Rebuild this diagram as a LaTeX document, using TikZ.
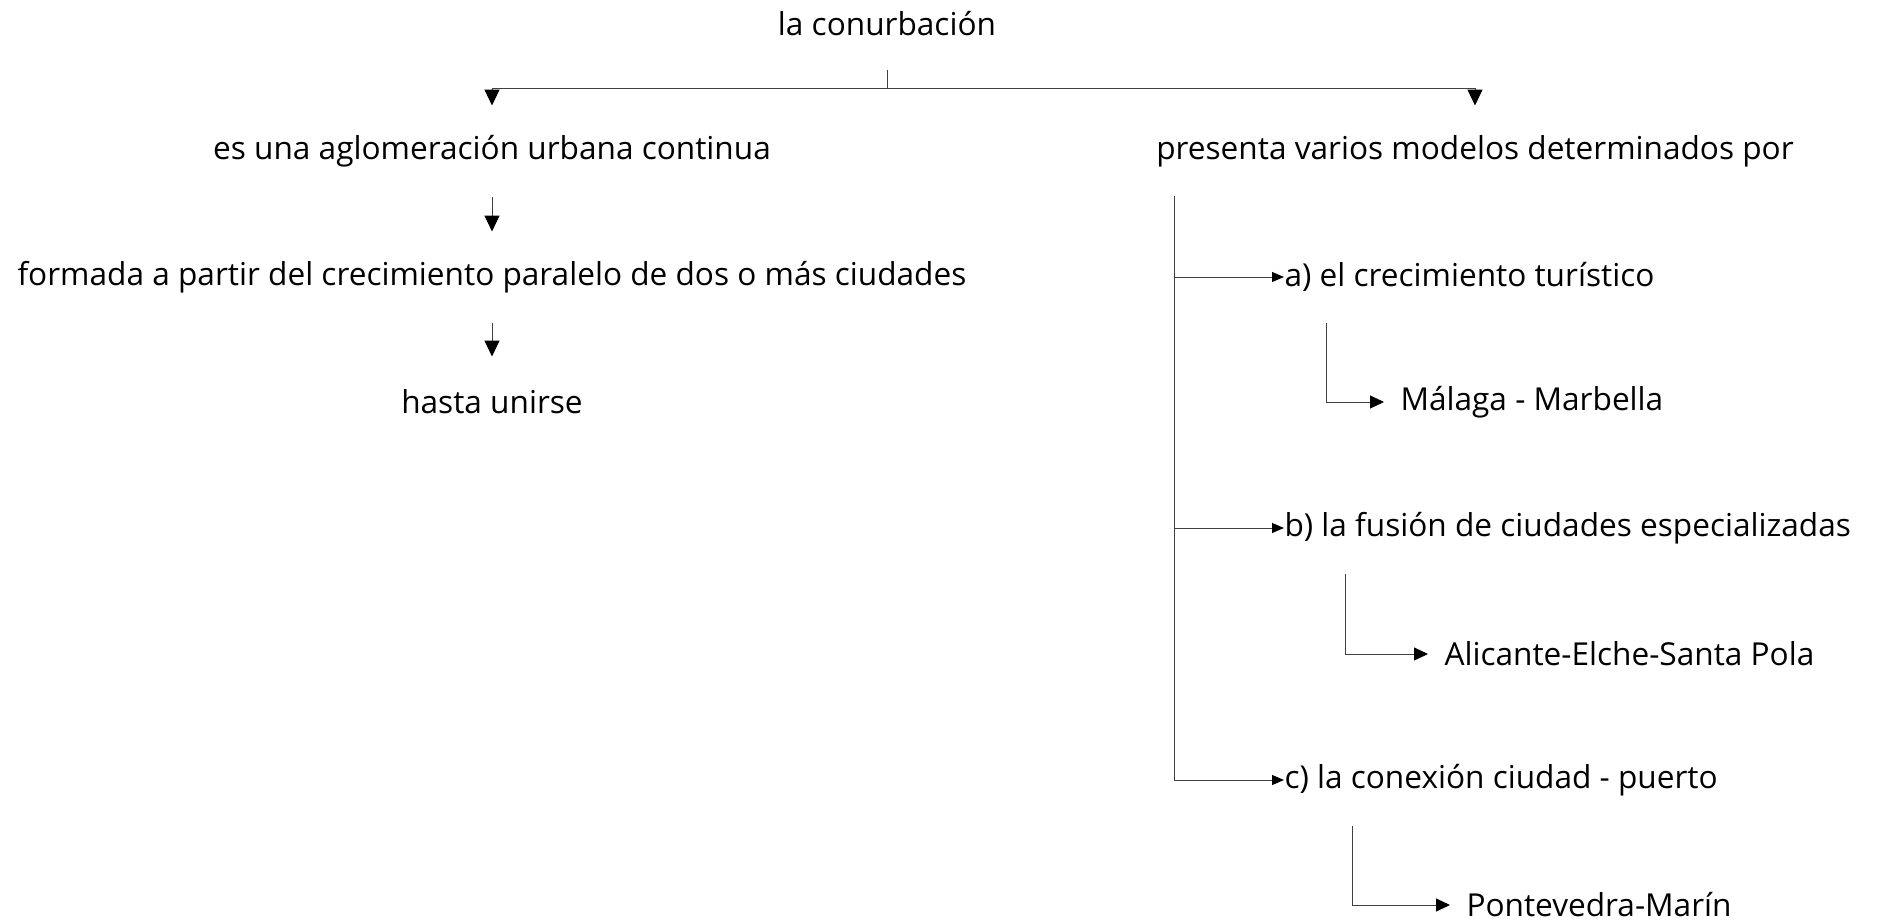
\documentclass[tikz,border=0pt]{standalone}
\usepackage{fontspec}
\setmainfont{Open Sans}
\usetikzlibrary{arrows.meta}
\begin{document}
\begin{tikzpicture}
  [-{Triangle[length=8pt,width=7.5pt,color=black]}, x=0.5pt, y=-0.5pt,
   line width=0.5pt, draw=black!75,
   font=\fontsize{15.8}{18}\selectfont,
   concepto/.style={inner xsep=0pt, inner ysep=0pt, minimum height=45pt},
   ejemplo/.style={concepto, anchor=west, inner xsep=8pt},
   rama/.style={-{Triangle[length=6pt,width=5pt,color=black]}},
   subrama/.style={-{Triangle[length=7pt,width=6.5pt,color=black]}}]
  \useasboundingbox (0,0) rectangle (1881,921);

  % Raíz del esquema
  \node[concepto] (root) at (887,24) {la conurbación};

  % Rama izquierda
  \node[concepto] (aglom) at (492,151) {es una aglomeración urbana continua};
  \node[concepto] (formada) at (492,277) {formada a partir del crecimiento paralelo de dos o más ciudades};
  \node[concepto] (unirse) at (492,402) {hasta unirse};

  % Rama derecha
  \node[concepto] (modelos) at (1475,151) {presenta varios modelos determinados por};
  \node[concepto, anchor=west] (turistico) at (1284,277) {a) el crecimiento turístico};
  \node[concepto, anchor=west] (fusion) at (1284,528) {b) la fusión de ciudades especializadas};
  \node[concepto, anchor=west] (conexion) at (1284,780) {c) la conexión ciudad - puerto};

  % Ejemplos
  \node[ejemplo] (malaga) at (1384,402) {Málaga - Marbella};
  \node[ejemplo] (alicante) at (1428,654) {Alicante-Elche-Santa Pola};
  \node[ejemplo] (pontevedra) at (1450,905) {Pontevedra-Marín};

  % Conectando la raíz con las dos ramas
  \coordinate (split) at (887,88);
  \draw[-] (root) -- (split);
  \draw (split) -| (aglom);
  \draw (split) -| (modelos);

  % Conectando la rama izquierda
  \draw (aglom) -- (formada);
  \draw (formada) -- (unirse);

  % Conectando la rama derecha
  \coordinate (trunk) at (1174,196);
  \draw[rama] (trunk) |- (conexion);
  \draw[rama] (trunk |- turistico) -- (turistico);
  \draw[rama] (trunk |- fusion) -- (fusion);

  % Conectando los ejemplos
  \draw[subrama] ([xshift=21pt]turistico.south west) |- (malaga);
  \draw[subrama] ([xshift=30.5pt]fusion.south west) |- (alicante);
  \draw[subrama] ([xshift=34pt]conexion.south west) |- (pontevedra);
\end{tikzpicture}
\end{document}
